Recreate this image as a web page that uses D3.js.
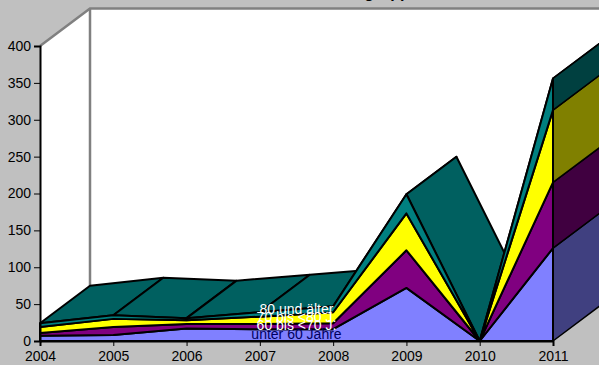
<!DOCTYPE html>
<html><head><meta charset="utf-8">
<script src="https://cdnjs.cloudflare.com/ajax/libs/d3/7.8.5/d3.min.js"></script>
<style>html,body{margin:0;padding:0;background:#c0c0c0;overflow:hidden}svg{display:block}text{font-family:"Liberation Sans",Arial,sans-serif}</style>
</head><body><div id="c"></div>
<script>
const years = ["2004","2005","2006","2007","2008","2009","2010","2011"];
const seriesNames = ["unter 60 Jahre","60 bis <70 J.","70 bis <80 J.","80 und älter"];
const under60 = [7,8,17,16,16,72,0,126];
const from60to70 = [4,11,6,7,8,51,0,89];
const from70to80 = [8,11,5,10,15,50,0,98];
const from80 = [5,5,3,6,8,26,0,43];
const seriesValues = [under60,from60to70,from70to80,from80];
const frontColors = ["#8080ff","#800080","#ffff00","#008080"];
const sideColors = ["#404080","#400040","#808000","#004040"];
const topColor = "#006060";
const labelColors = ["#000060","#ffffff","#ffffff","#ffffff"];
const yTicks = [0,50,100,150,200,250,300,350,400];
const titleText = "Altersgruppen";

const W=599,H=365;
const x=d3.scalePoint().domain(years).range([40,553]);
const y=d3.scaleLinear().domain([0,400]).range([341,46]);
const depth={dx:50,dy:-37.5};
const svg=d3.select("#c").append("svg").attr("width",W).attr("height",H).style("background","#c0c0c0");
const rows=years.map((yr,i)=>{const r={year:yr};seriesNames.forEach((n,k)=>r[n]=seriesValues[k][i]);return r;});
const stacked=d3.stack().keys(seriesNames)(rows);
const X0=x(years[0]),X1=x(years[years.length-1]),Y0=y(0),Y1=y(400);
const pts=p=>p.map(a=>a.join(",")).join(" ");
const back=([a,b])=>[a+depth.dx,b+depth.dy];

// walls
svg.append("polygon").attr("points",pts([[X0,Y1],back([X0,Y1]),[W+5,Y1+depth.dy],[W+5,Y0+depth.dy],back([X0,Y0]),[X0,Y0]])).attr("fill","#fff");
svg.append("path").attr("d",`M${X0},${Y1}L${X0+depth.dx},${Y1+depth.dy}L${W+5},${Y1+depth.dy}M${X0+depth.dx},${Y1+depth.dy}L${X0+depth.dx},${Y0+depth.dy}`)
  .attr("fill","none").attr("stroke","#808080").attr("stroke-width",2.5);

// title (clipped by top edge)
svg.append("text").attr("x",319).attr("y",-2).attr("font-size",16).attr("font-weight","bold").attr("fill","#000").text(titleText);

const stroke=s=>s.attr("stroke","#000").attr("stroke-width",2).attr("stroke-linejoin","round");
const topLayer=stacked[stacked.length-1];
// top surface
stroke(svg.append("g").selectAll("polygon").data(d3.range(years.length-1)).join("polygon")
  .attr("points",i=>{const a=[x(years[i]),y(topLayer[i][1])],b=[x(years[i+1]),y(topLayer[i+1][1])];return pts([a,b,back(b),back(a)]);})
  .attr("fill",topColor));
// side surfaces at the last category
const last=years.length-1;
stroke(svg.append("g").selectAll("polygon").data(stacked).join("polygon")
  .attr("points",s=>{const a=[X1,y(s[last][0])],b=[X1,y(s[last][1])];return pts([a,b,back(b),back(a)]);})
  .attr("fill",(s,k)=>sideColors[k])).attr("stroke-width",1.5);
// front layers
const area=d3.area().x(d=>x(d.data.year)).y0(d=>y(d[0])).y1(d=>y(d[1]));
stroke(svg.append("g").selectAll("path").data(stacked).join("path")
  .attr("d",area).attr("fill",(s,k)=>frontColors[k]));

// axes
const ax=d3.axisBottom(x).tickSize(5).tickPadding(5);
const ay=d3.axisLeft(y).tickValues(yTicks).tickSize(6).tickPadding(3);
for(const [g,tr] of [[ax,`translate(0,${Y0})`],[ay,`translate(${X0},0)`]]){
  const a=svg.append("g").attr("transform",tr).call(g);
  a.selectAll("path").attr("stroke","#000").attr("stroke-width",2);
  a.selectAll("line").attr("stroke","#000").attr("stroke-width",1);
  a.selectAll("text").attr("font-size",14).attr("font-family","Liberation Sans").attr("fill","#000");
}
// labels
const labelX=d3.mean([x("2007"),x("2008")]);
const labelY=[338.5,330,322,314];
svg.append("g").selectAll("text").data(seriesNames).join("text")
  .attr("x",labelX).attr("y",(n,k)=>labelY[k]).attr("text-anchor","middle").attr("font-size",14)
  .attr("fill",(n,k)=>labelColors[k]).text(n=>n);
</script></body></html>
